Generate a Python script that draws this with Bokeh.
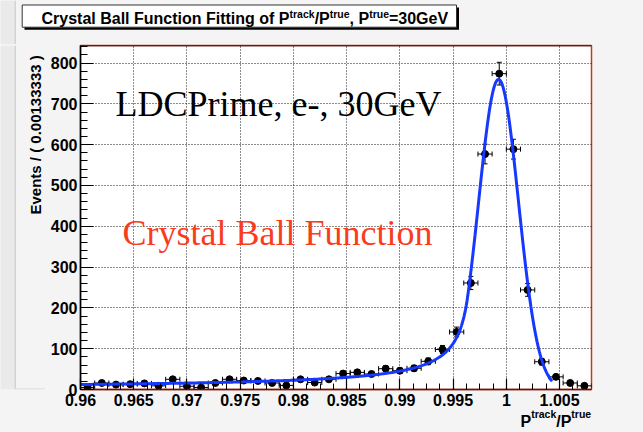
import numpy as np
from bokeh.plotting import figure
from bokeh.layouts import column, row
from bokeh.models import (Label, Whisker, ColumnDataSource, FixedTicker, LinearAxis,
                          SingleIntervalTicker, BoxAnnotation, Span, Range1d, TeeHead)
from bokeh.embed import file_html
from bokeh.resources import INLINE

# ---------------- data ----------------
bin_lo = 0.96
bin_hi = 1.008
n_bins = 36
counts = [5, 16, 12, 13, 15, 9, 25, 8, 5, 16,
          25, 22, 21, 16, 10, 25, 17, 25, 39, 42,
          38, 51, 46, 52, 69, 98, 141, 261, 577, 774,
          589, 244, 68, 31, 16, 9]

# Crystal Ball fit parameters
cb_norm = 760.0
cb_mean = 0.99927
cb_sigma = 0.00187
cb_alpha = 1.55
cb_n = 0.8
fit_lo = 0.96
fit_hi = 1.0043

x_ticks = [0.96, 0.965, 0.97, 0.975, 0.98, 0.985, 0.99, 0.995, 1.0, 1.005]
x_tick_labels = ["0.96", "0.965", "0.97", "0.975", "0.98", "0.985", "0.99",
                 "0.995", "1", "1.005"]
y_max = 843

title_parts = [("Crystal Ball Function Fitting of P", False), ("track", True),
               ("/P", False), ("true", True), (", P", False), ("true", True),
               ("=30GeV", False)]
xlabel_parts = [("P", False), ("track", True), ("/P", False), ("true", True)]
ylabel_text = "Events / ( 0.00133333 )"
text1 = "LDCPrime, e-, 30GeV"
text2 = "Crystal Ball Function"

# ---------------- derived ----------------
bw = (bin_hi - bin_lo) / n_bins
centers = bin_lo + (np.arange(n_bins) + 0.5) * bw
cnt = np.array(counts, dtype=float)
err = np.sqrt(cnt)

src = ColumnDataSource(dict(x=centers, y=cnt, yl=cnt - err, yu=cnt + err,
                            xl=centers - bw / 2, xu=centers + bw / 2))


def crystal_ball(x):
    t = (x - cb_mean) / cb_sigma
    a = abs(cb_alpha)
    A = (cb_n / a) ** cb_n * np.exp(-a * a / 2)
    B = cb_n / a - a
    out = np.where(t > -a, np.exp(-t * t / 2), A * np.power(np.abs(B - t), -cb_n))
    return cb_norm * out


xf = np.linspace(fit_lo, fit_hi, 600)
yf = crystal_ball(xf)

# ---------------- layout geometry (page pixels) ----------------
W, H = 643, 432
TOP_H = 44          # title strip height
LEFT_W = 45         # y-label strip width
FL, FR, FT, FB = 80, 591, 45, 389   # frame edges on the page
BG = "#f4f4f4"
fnt = "Liberation Sans"


def blank(w, h):
    f = figure(width=w, height=h, output_backend="svg", toolbar_location=None,
               title=None,
               x_range=Range1d(0, w), y_range=Range1d(0, h),
               x_axis_type=None, y_axis_type=None,
               min_border=0, min_border_left=0, min_border_right=0,
               min_border_top=0, min_border_bottom=0)
    f.outline_line_color = None
    f.background_fill_color = BG
    f.border_fill_color = BG
    return f


def edge_strip(f, h):
    f.add_layout(BoxAnnotation(left=0, right=14, bottom=0, top=h,
                               fill_color="#eaeaea", fill_alpha=1, line_alpha=0))
    f.add_layout(BoxAnnotation(left=14, right=15.5, bottom=0, top=h,
                               fill_color="#d2d2d2", fill_alpha=1, line_alpha=0))


# Helvetica-Bold advance widths (per 1000 em)
HB = {"C": 722, "r": 389, "y": 556, "s": 556, "t": 333, "a": 556, "l": 278, " ": 278,
      "B": 722, "F": 611, "u": 611, "n": 611, "c": 556, "i": 278, "o": 611, "g": 611,
      "f": 333, "P": 667, "k": 556, "/": 278, "e": 556, ",": 278, "=": 584, "3": 556,
      "0": 556, "G": 778, "V": 667}
MAIN, SUP = 16.0, 10.5


def tw(s, size):
    return sum(HB[c] for c in s) * size / 1000.0


def place_parts(f, h, parts, x0, mid, sup_mid):
    # mid / sup_mid: pixel rows (from the top of figure f) of the text centres
    x = x0
    for s, sup in parts:
        size = SUP if sup else MAIN
        f.add_layout(Label(x=x, y=h - (sup_mid if sup else mid), text=s,
                           text_font=fnt, text_font_style="bold",
                           text_font_size=f"{size}px", text_color="black",
                           text_baseline="middle", text_align="left"))
        x += tw(s, size)


# ---------------- title strip ----------------
top = blank(W, TOP_H)
edge_strip(top, TOP_H)
top.add_layout(BoxAnnotation(left=24, right=458.5, top=TOP_H - 7, bottom=TOP_H - 29.3,
                             fill_color="black", fill_alpha=1, line_alpha=0))
top.add_layout(BoxAnnotation(left=21.7, right=456, top=TOP_H - 4.5, bottom=TOP_H - 26.7,
                             fill_color="white", fill_alpha=1, line_color="#333333",
                             line_alpha=1, line_width=1))
place_parts(top, TOP_H, title_parts, 41, 17.5, 13.2)

# ---------------- y-label strip ----------------
mid_h = H - TOP_H
left = blank(LEFT_W, mid_h)
edge_strip(left, mid_h)
left.add_layout(BoxAnnotation(left=15.5, right=LEFT_W, bottom=0, top=1.2,
                              fill_color="#d6d6d6", fill_alpha=1, line_alpha=0))
left.add_layout(Label(x=35, y=mid_h - (55 - TOP_H), text=ylabel_text, text_font=fnt,
                      text_font_style="bold", text_font_size="15px", angle=np.pi / 2,
                      text_align="right", text_baseline="middle", text_color="black"))

# ---------------- main plot ----------------
p = figure(width=W - LEFT_W, height=mid_h, output_backend="svg", toolbar_location=None,
           title=None,
           x_range=Range1d(bin_lo, bin_hi), y_range=Range1d(0, y_max),
           min_border_left=FL - LEFT_W, min_border_right=W - FR,
           min_border_top=FT - TOP_H, min_border_bottom=H - FB)

p.background_fill_color = "white"
p.border_fill_color = BG
p.outline_line_color = "#c23a22"
p.outline_line_width = 1.5

for ax in (p.xaxis[0], p.yaxis[0]):
    ax.major_label_text_font = fnt
    ax.major_label_text_font_style = "bold"
    ax.major_label_text_font_size = "16px"
    ax.major_label_text_color = "black"
    ax.axis_line_color = "black"
    ax.axis_line_width = 1.5
    ax.major_tick_line_color = "black"
    ax.minor_tick_line_color = "black"
    ax.major_tick_line_width = 1.2
    ax.minor_tick_line_width = 1
    ax.major_tick_out = 0
    ax.minor_tick_out = 0
    ax.major_label_standoff = 3

p.yaxis.ticker = SingleIntervalTicker(interval=100, num_minor_ticks=5)
p.yaxis.major_tick_in = 13
p.yaxis.minor_tick_in = 7

minor_x = [round(bin_lo + k * 0.00125, 6) for k in range(39)]
p.xaxis.ticker = FixedTicker(ticks=x_ticks, minor_ticks=minor_x)
p.xaxis.major_label_overrides = {t: s for t, s in zip(x_ticks, x_tick_labels)}
p.xaxis.major_tick_in = 11
p.xaxis.minor_tick_in = 6
p.xaxis.major_label_standoff = 4
p.xaxis.axis_line_color = "#5a1a10"

for g in (p.xgrid[0], p.ygrid[0]):
    g.grid_line_color = "black"
    g.grid_line_dash = "1 2"
    g.grid_line_width = 1
    g.grid_line_alpha = 0.9

p.add_layout(Span(location=y_max, dimension="width", line_color="black", line_width=1.5))

# data points with error bars
p.add_layout(Whisker(source=src, base="x", lower="yl", upper="yu", dimension="height",
                     line_color="black", line_width=1,
                     lower_head=TeeHead(size=5, line_color="black", line_width=1),
                     upper_head=TeeHead(size=5, line_color="black", line_width=1)))
p.add_layout(Whisker(source=src, base="y", lower="xl", upper="xu", dimension="width",
                     line_color="black", line_width=1,
                     lower_head=TeeHead(size=5, line_color="black", line_width=1),
                     upper_head=TeeHead(size=5, line_color="black", line_width=1)))
p.scatter("x", "y", source=src, size=7, color="black")

# fit curve
p.line(xf, yf, line_color="#1638ff", line_width=3)


def sx(px):
    return bin_lo + (px - FL) * (bin_hi - bin_lo) / (FR - FL)


def sy(py):
    return (FB - py) * y_max / (FB - FT)


p.add_layout(Label(x=sx(115), y=sy(103.7), text=text1, text_font="Liberation Serif",
                   text_font_size="36px", text_color="black",
                   text_baseline="middle", text_align="left"))
p.add_layout(Label(x=sx(122), y=sy(232), text=text2, text_font="Liberation Serif",
                   text_font_size="36px", text_color="#fa3c1e",
                   text_baseline="middle", text_align="left"))

# ---------------- x-axis title: P^track/P^true as two label-only axes ----------------
xl_total = sum(tw(s, SUP if sup else MAIN) for s, sup in xlabel_parts)
cur = 590.7 - xl_total
sup_pos, sup_txt, main_pos, main_txt = [], [], [], []
for s, sup in xlabel_parts:
    w = tw(s, SUP if sup else MAIN)
    if sup:
        sup_pos.append(sx(cur + w / 2))
        sup_txt.append(s)
    else:
        main_pos.append(sx(cur + w / 2))
        main_txt.append(s)
    cur += w


def text_axis(pos, txt, size, standoff):
    ax = LinearAxis(ticker=FixedTicker(ticks=pos, minor_ticks=[]),
                    major_label_overrides={t: s for t, s in zip(pos, txt)},
                    axis_line_color=None, major_tick_line_color=None,
                    minor_tick_line_color=None,
                    major_tick_in=0, major_tick_out=0, minor_tick_in=0, minor_tick_out=0,
                    major_label_standoff=standoff, major_label_text_font=fnt,
                    major_label_text_font_style="bold",
                    major_label_text_font_size=f"{size}px",
                    major_label_text_color="black")
    p.add_layout(ax, "below")


text_axis(sup_pos, sup_txt, SUP, -1)
text_axis(main_pos, main_txt, MAIN, -10)

mid_row = row(left, p, spacing=0, styles={"background-color": BG})
layout = column(top, mid_row, spacing=0, styles={"background-color": BG})
open("out.html", "w").write(file_html(layout, INLINE))
